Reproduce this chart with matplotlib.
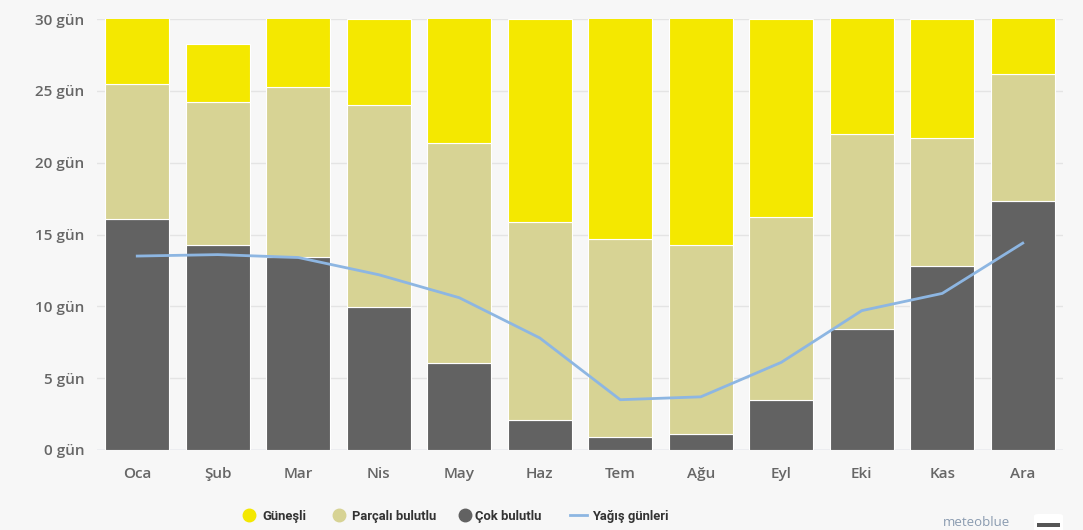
import matplotlib
matplotlib.use("Agg")
import matplotlib.pyplot as plt
from matplotlib.lines import Line2D
from matplotlib.patches import FancyBboxPatch, Rectangle
import numpy as np

months = ["Oca", "Şub", "Mar", "Nis", "May", "Haz", "Tem", "Ağu", "Eyl", "Eki", "Kas", "Ara"]
days_in_month = [31, 28.25, 31, 30, 31, 30, 31, 31, 30, 31, 30, 31]
cok_bulutlu = [16.1, 14.3, 13.4, 9.95, 6.05, 2.1, 0.9, 1.1, 3.5, 8.4, 12.8, 17.3]
parcali_bulutlu = [9.4, 9.9, 11.9, 14.05, 15.35, 13.8, 13.8, 13.2, 12.7, 13.6, 8.9, 8.9]
yagis_gunleri = [13.5, 13.6, 13.4, 12.2, 10.6, 7.8, 3.5, 3.7, 6.1, 9.7, 10.9, 14.4]
y_ticks = [0, 5, 10, 15, 20, 25, 30]
legend_labels = ["Güneşli", "Parçalı bulutlu", "Çok bulutlu", "Yağış günleri"]

cok = np.array(cok_bulutlu)
parcali = np.array(parcali_bulutlu)
gunesli = np.array(days_in_month) - cok - parcali

c_sun = "#f4e800"
c_part = "#d7d394"
c_dark = "#626262"
c_line = "#8db6e2"
bg = "#f7f7f7"

plt.rcParams["font.family"] = ["Open Sans", "DejaVu Sans"]

W, H = 1083, 530
fig = plt.figure(figsize=(W / 100, H / 100), dpi=100, facecolor=bg)
ax = fig.add_axes([97 / W, 80 / H, 966 / W, 431 / H])
ax.set_facecolor(bg)

x = np.arange(len(months))
w = 0.79
ax.bar(x, cok, w, color=c_dark, edgecolor="white", linewidth=0.8, zorder=2)
ax.bar(x, parcali, w, bottom=cok, color=c_part, edgecolor="white", linewidth=0.8, zorder=2)
ax.bar(x, gunesli, w, bottom=cok + parcali, color=c_sun, edgecolor="white", linewidth=0.8, zorder=2)
ax.plot(x, yagis_gunleri, color=c_line, linewidth=2, zorder=3)

ax.set_xlim(-0.5, len(months) - 0.5)
ax.set_ylim(0, 30)
ax.set_yticks(y_ticks)
ax.set_yticklabels([f"{t} gün" for t in y_ticks])
ax.set_xticks(x)
ax.set_xticklabels(months)
ax.tick_params(axis="both", length=0, labelsize=11, colors="#666666")
for lbl in ax.get_xticklabels() + ax.get_yticklabels():
    lbl.set_fontweight("semibold")
ax.tick_params(axis="y", pad=9)
ax.tick_params(axis="x", pad=12)
ax.grid(axis="y", color="#e4e4e4", linewidth=1, zorder=0)
for s in ax.spines.values():
    s.set_visible(False)
ax.axhline(0, color="#ccd6eb", linewidth=1, zorder=1)

# legend row, laid out in pixel positions along the bottom
ly = (H - 515) / H
marker_x = [249, 339, 465]
marker_c = [c_sun, c_part, c_dark]
for mx, mc in zip(marker_x, marker_c):
    fig.add_artist(Line2D([mx / W], [ly], marker="o", markersize=9, linestyle="",
                          markerfacecolor=mc, markeredgecolor=mc, transform=fig.transFigure))
fig.add_artist(Line2D([570 / W, 587 / W], [ly, ly], color=c_line, linewidth=2, transform=fig.transFigure))
text_x = [262, 352, 475, 592]
for tx, lab in zip(text_x, legend_labels):
    fig.text(tx / W, ly, lab, ha="left", va="center_baseline", fontsize=9.4, fontweight="bold",
             color="#333333", family=["Roboto", "DejaVu Sans"])

fig.text(943 / W, 1 / H, "meteoblue", ha="left", va="bottom", fontsize=9.5, color="#8a9bb0")
fig.add_artist(FancyBboxPatch((1034 / W, -5 / H), 29 / W, 21 / H,
                              boxstyle="round,pad=0,rounding_size=0.004",
                              facecolor="white", edgecolor="none", transform=fig.transFigure))
fig.add_artist(Rectangle((1037 / W, 3 / H), 23 / W, 4 / H, facecolor="#555555",
                         edgecolor="none", transform=fig.transFigure))

fig.savefig("out.png", dpi=100, facecolor=bg)
